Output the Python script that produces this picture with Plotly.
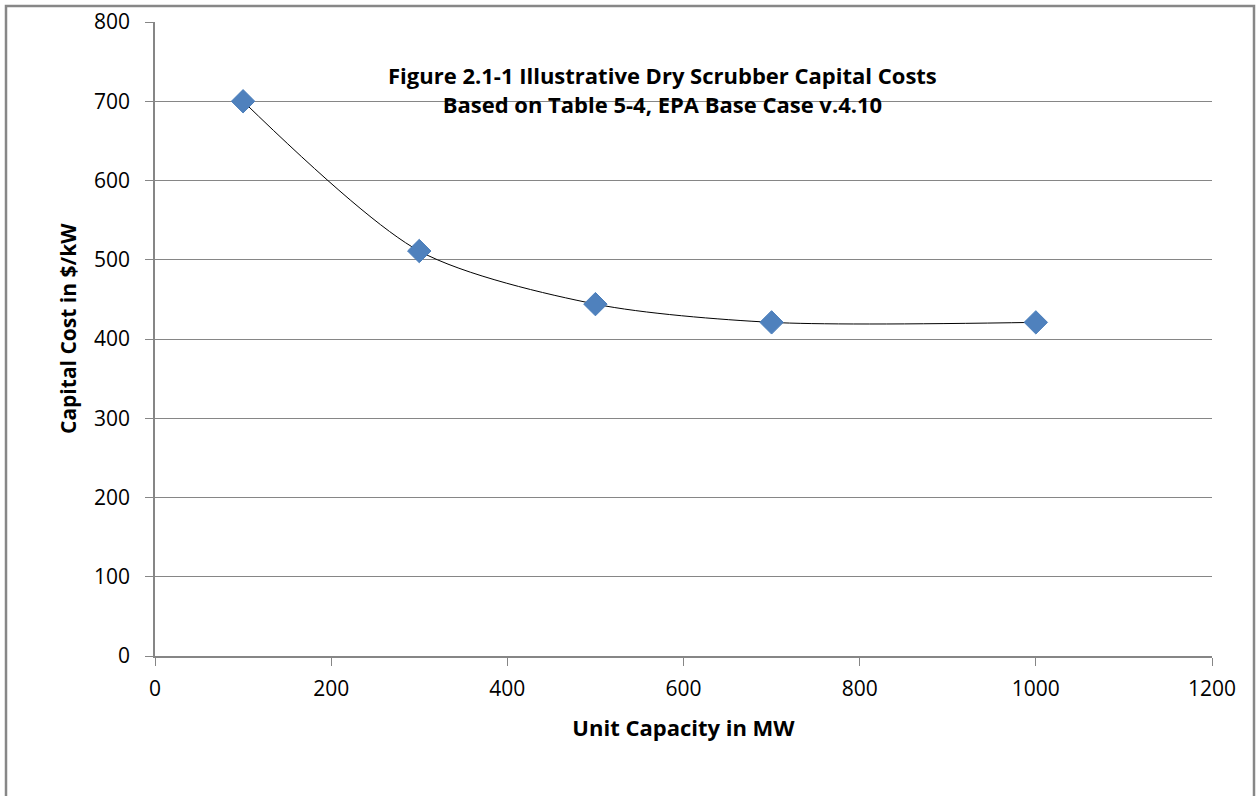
import plotly.graph_objects as go

capacity_mw = [100, 300, 500, 700, 1000]
cost_per_kw = [700, 511, 444, 421, 421]

x_ticks = [0, 200, 400, 600, 800, 1000, 1200]
y_ticks = [0, 100, 200, 300, 400, 500, 600, 700, 800]

title_lines = ["Figure 2.1-1 Illustrative Dry Scrubber Capital Costs",
               "Based on Table 5-4, EPA Base Case v.4.10"]
x_title = "Unit Capacity in MW"
y_title = "Capital Cost in $/kW"

FONT = "Open Sans"
L, R, T, B = 155, 47, 22, 140
W, H = 1259, 796
pw, ph = W - L - R, H - T - B

fig = go.Figure()
fig.add_trace(go.Scatter(
    x=capacity_mw, y=cost_per_kw, mode="lines",
    line=dict(color="#000000", width=1, shape="spline", smoothing=0.8),
    showlegend=False, hoverinfo="skip"))
fig.add_trace(go.Scatter(
    x=capacity_mw, y=cost_per_kw, mode="markers",
    marker=dict(symbol="diamond", size=18, color="#4F81BD",
                line=dict(color="#4A7EBB", width=1)),
    showlegend=False))

fig.update_layout(
    width=W, height=H,
    margin=dict(l=L, r=R, t=T, b=B, autoexpand=False),
    paper_bgcolor="white", plot_bgcolor="white",
    font=dict(family=FONT, size=21, color="#000000"),
    xaxis=dict(range=[0, 1200], tickvals=x_ticks, showgrid=False,
               showline=True, linecolor="#868686", linewidth=1.5,
               ticks="outside", ticklen=8, tickcolor="#868686",
               tickfont=dict(size=21), zeroline=False, ticklabelstandoff=5,
               automargin=False,
               title=dict(text="<b>" + x_title + "</b>", font=dict(size=22), standoff=20)),
    yaxis=dict(range=[0, 800], tickvals=y_ticks, showgrid=True,
               gridcolor="#868686", gridwidth=1,
               showline=True, linecolor="#868686", linewidth=1.5,
               ticks="outside", ticklen=8, tickcolor="#868686",
               tickfont=dict(size=21), zeroline=False, ticklabelstandoff=11,
               automargin=False),
)

fig.add_annotation(
    x=(68 - L) / pw, y=(656 - 329) / ph, xref="paper", yref="paper",
    xanchor="center", yanchor="middle", textangle=-90,
    text="<b>" + y_title + "</b>", showarrow=False,
    font=dict(size=21, family=FONT))

fig.add_annotation(
    x=(662 - L) / pw, y=(656 - 89) / ph, xref="paper", yref="paper",
    xanchor="center", yanchor="middle",
    text="<b>" + title_lines[0] + "<br>" + title_lines[1] + "</b>",
    showarrow=False, font=dict(size=22, family=FONT), align="center",
    bgcolor="rgba(0,0,0,0)")

# outer chart frame
fig.add_shape(type="rect", xref="paper", yref="paper",
              x0=(6 - L) / pw, x1=(1254 - L) / pw,
              y0=(656 - 820) / ph, y1=(656 - 6) / ph,
              line=dict(color="#878787", width=2.5), layer="below")

fig.write_html("out.html", config={"displayModeBar": False},
               post_script="document.body.style.margin='0';document.body.style.overflow='hidden';")
